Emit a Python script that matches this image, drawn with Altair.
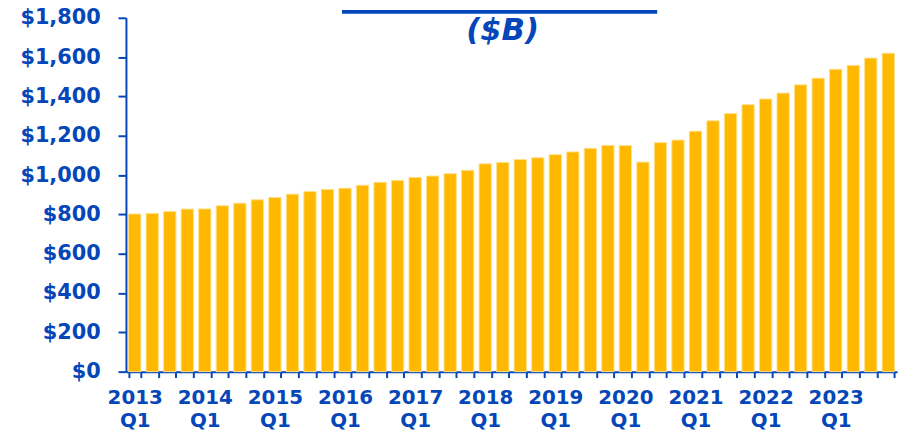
import altair as alt
import pandas as pd

years = [str(y) for y in range(2013, 2024)]
quarters = ["Q1", "Q2", "Q3", "Q4"]
periods = [f"{y} {q}" for y in years for q in quarters]
values = [802, 805, 815, 827, 828, 844, 857, 874, 886, 903, 916, 927,
          933, 948, 963, 973, 988, 995, 1007, 1024, 1057, 1064, 1079, 1088,
          1104, 1118, 1136, 1151, 1150, 1066, 1165, 1178, 1223, 1276, 1313, 1358,
          1387, 1417, 1459, 1493, 1538, 1558, 1595, 1620]
y_ticks = [0, 200, 400, 600, 800, 1000, 1200, 1400, 1600, 1800]
title_text = "($B)"

BLUE = "#0546B8"
GOLD = "#FFB800"
FONT = "DejaVu Sans"

df = pd.DataFrame({"period": periods, "amount": values})

base = alt.Chart(df)

bars = base.mark_bar(fill=GOLD, stroke="#FFDF8A", strokeWidth=1).encode(
    x=alt.X("period:N", sort=periods,
            scale=alt.Scale(paddingInner=0.3, paddingOuter=0.15),
            axis=alt.Axis(title=None, labelAngle=0, tickBand="extent",
                          labelExpr="indexof(''+datum.value,'Q1')>=0 ? split(''+datum.value,' ') : ''",
                          labelOverlap=False, labelFont=FONT, labelFontSize=20,
                          labelFontWeight="bold", labelColor=BLUE, labelLineHeight=23,
                          labelPadding=10, tickSize=6, tickColor=BLUE, tickWidth=2,
                          domainColor=BLUE, domainWidth=2)),
    y=alt.Y("amount:Q", scale=alt.Scale(domain=[0, 1800], nice=False),
            axis=alt.Axis(title=None, values=y_ticks, format="$,.0f", grid=False,
                          labelFont=FONT, labelFontSize=21, labelFontWeight="bold",
                          labelColor=BLUE, labelPadding=18, tickSize=8, tickColor=BLUE,
                          tickWidth=2, domainColor=BLUE, domainWidth=2)),
)

first = base.transform_filter(alt.datum.period == periods[0])

title = first.mark_text(
    text=title_text, font=FONT, fontSize=31, fontWeight="bold", fontStyle="italic",
    color=BLUE, align="center", baseline="alphabetic").encode(
    x=alt.value(380), y=alt.value(22))

band = first.mark_rect(color=BLUE).encode(
    x=alt.value(218), x2=alt.value(536), y=alt.value(-8), y2=alt.value(-4))

chart = alt.layer(bars, title, band).properties(
    width=778, height=357,
    autosize=alt.AutoSizeParams(type="none"),
    padding={"left": 119, "top": 8, "right": 5, "bottom": 60},
).configure_view(stroke=None)

chart.save("out.html", embed_options={"renderer": "svg", "actions": False})
